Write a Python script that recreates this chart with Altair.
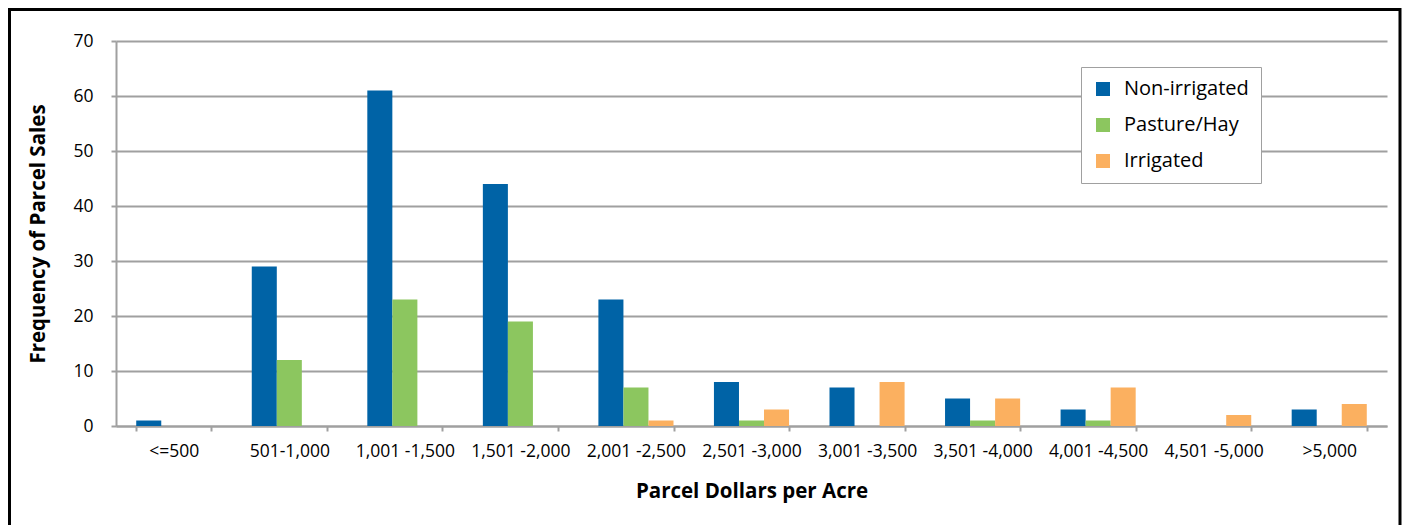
import altair as alt
import pandas as pd

categories = ["<=500", "501-1,000", "1,001 -1,500", "1,501 -2,000", "2,001 -2,500",
              "2,501 -3,000", "3,001 -3,500", "3,501 -4,000", "4,001 -4,500",
              "4,501 -5,000", ">5,000"]
non_irrigated = [1, 29, 61, 44, 23, 8, 7, 5, 3, 0, 3]
pasture_hay = [0, 12, 23, 19, 7, 1, 0, 1, 1, 0, 0]
irrigated = [0, 0, 0, 0, 1, 3, 8, 5, 7, 2, 4]
series_names = ["Non-irrigated", "Pasture/Hay", "Irrigated"]
series_colors = ["#0063a6", "#8cc65f", "#fbb060"]
y_ticks = [0, 10, 20, 30, 40, 50, 60, 70]

rows = []
for i, c in enumerate(categories):
    for s, vals in zip(series_names, [non_irrigated, pasture_hay, irrigated]):
        rows.append({"category": c, "series": s, "value": vals[i]})
df = pd.DataFrame(rows)

FONT = "Open Sans"
W, H = 1271, 385

bars = alt.Chart(df).mark_bar().encode(
    x=alt.X("category:N", sort=categories,
            scale=alt.Scale(paddingInner=0.35, paddingOuter=0.175),
            axis=alt.Axis(title="Parcel Dollars per Acre", labelAngle=0,
                          tickBand="extent", grid=False, labelFontSize=17.5,
                          labelFont=FONT, titleFont=FONT,
                          labelPadding=11, titleFontSize=20.5, titlePadding=22)),
    xOffset=alt.XOffset("series:N", sort=series_names,
                        scale=alt.Scale(paddingInner=0, paddingOuter=0)),
    y=alt.Y("value:Q", scale=alt.Scale(domain=[0, 70], nice=False),
            axis=alt.Axis(title="Frequency of Parcel Sales", values=y_ticks,
                          labelFont=FONT, titleFont=FONT,
                          labelFontSize=17.5, labelPadding=18, titleFontSize=20.5,
                          titlePadding=24)),
    color=alt.Color("series:N", sort=series_names,
                    scale=alt.Scale(domain=series_names, range=series_colors),
                    legend=alt.Legend(title=None, orient="none", legendX=965, legendY=26,
                                      symbolType="square", symbolSize=196,
                                      symbolStrokeWidth=0, labelFontSize=20,
                                      labelOffset=11, rowPadding=16, padding=12,
                                      strokeColor="#a0a0a0", fillColor="white",
                                      labelColor="black", labelFont=FONT)),
)

frame = alt.Chart(pd.DataFrame({"a": [0]})).mark_rect(
    filled=False, stroke="black", strokeWidth=3
).encode(
    x=alt.value(-106.5), x2=alt.value(1284), y=alt.value(-31.5), y2=alt.value(620)
)

chart = alt.layer(bars, frame).properties(
    width=W, height=H,
    background="white",
    autosize=alt.AutoSizeParams(type="none"),
    padding={"left": 108, "top": 33, "right": 20, "bottom": 99},
).configure_view(stroke=None).configure_axis(
    domainColor="#a0a0a0", domainWidth=2, gridColor="#a0a0a0", gridWidth=2,
    tickColor="#a0a0a0", tickWidth=2, tickSize=5, labelColor="black",
    titleColor="black", labelFont=FONT, titleFont=FONT, titleFontWeight="bold"
).configure_legend(strokeColor="#a0a0a0")

chart.save("out.html", embed_options={"renderer": "svg", "actions": False})
